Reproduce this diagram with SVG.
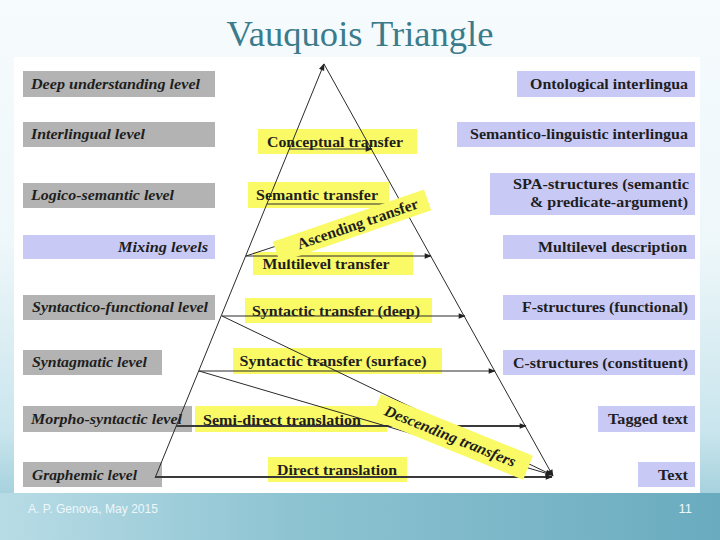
<svg xmlns="http://www.w3.org/2000/svg" width="720" height="540" viewBox="0 0 720 540">
<defs>
<linearGradient id="bg" x1="0" y1="0" x2="0" y2="1">
<stop offset="0" stop-color="#f6fbfd"/>
<stop offset="0.45" stop-color="#eef7fa"/>
<stop offset="0.8" stop-color="#c9e5ed"/>
<stop offset="1" stop-color="#8cc3d2"/>
</linearGradient>
<linearGradient id="band" x1="0" y1="0" x2="1" y2="0">
<stop offset="0" stop-color="#b8dce6"/>
<stop offset="0.4" stop-color="#8ec4d2"/>
<stop offset="1" stop-color="#6aabbf"/>
</linearGradient>
<marker id="ah" viewBox="0 0 10 10" refX="9" refY="5" markerWidth="8" markerHeight="7" markerUnits="userSpaceOnUse" orient="auto">
<path d="M0,1 L10,5 L0,9 z" fill="#222"/>
</marker>
<style>
.gray{fill:#b3b3b3}
.lav{fill:#c9c9f5}
.yel{fill:#fafa66}
.serif{font-family:'Liberation Serif','Times New Roman',Times,'DejaVu Serif',serif}
.lt{font-family:'Liberation Serif','Times New Roman',Times,'DejaVu Serif',serif;font-weight:bold;font-style:italic;font-size:15.5px;fill:#1e1e1e}
.rt{font-family:'Liberation Serif','Times New Roman',Times,'DejaVu Serif',serif;font-weight:bold;font-size:15.5px;fill:#1e1e1e;text-anchor:end}
.yt{font-family:'Liberation Serif','Times New Roman',Times,'DejaVu Serif',serif;font-weight:bold;font-size:15.5px;fill:#1e1e1e;text-anchor:middle}
.ft{font-family:'Liberation Sans',Arial,sans-serif;fill:#eef7fa}
.ln{stroke:#2a2a2a;stroke-width:1;fill:none}
.thk{stroke:#3a3a3a;stroke-width:2;fill:none}
</style>
</defs>
<rect x="0" y="0" width="720" height="540" fill="url(#bg)"/>
<rect x="0" y="493" width="720" height="47" fill="url(#band)"/>
<rect x="14" y="57" width="686" height="436" fill="#ffffff"/>
<text class="serif" x="360" y="46" font-size="36" fill="#3b7b8b" text-anchor="middle" textLength="267" lengthAdjust="spacingAndGlyphs">Vauquois Triangle</text>

<g id="deep-understanding"><rect class="gray" x="23" y="71" width="192" height="26"/><text class="lt" x="31" y="89" textLength="169" lengthAdjust="spacingAndGlyphs">Deep understanding level</text></g>
<g id="interlingual"><rect class="gray" x="23" y="122" width="192" height="25"/><text class="lt" x="31" y="139" textLength="114" lengthAdjust="spacingAndGlyphs">Interlingual level</text></g>
<g id="logico-semantic"><rect class="gray" x="23" y="183" width="192" height="25"/><text class="lt" x="31" y="200" textLength="143" lengthAdjust="spacingAndGlyphs">Logico-semantic level</text></g>
<g id="mixing"><rect class="lav" x="23" y="235" width="192" height="24"/><text class="lt" x="208" y="252" text-anchor="end" textLength="90" lengthAdjust="spacingAndGlyphs">Mixing levels</text></g>
<g id="syntactico-functional"><rect class="gray" x="23" y="295" width="192" height="25"/><text class="lt" x="32" y="312" textLength="176" lengthAdjust="spacingAndGlyphs">Syntactico-functional level</text></g>
<g id="syntagmatic"><rect class="gray" x="23" y="350" width="139" height="25"/><text class="lt" x="32" y="367" textLength="115" lengthAdjust="spacingAndGlyphs">Syntagmatic level</text></g>
<g id="morpho-syntactic"><rect class="gray" x="23" y="406" width="169" height="26"/><text class="lt" x="31" y="424" textLength="151" lengthAdjust="spacingAndGlyphs">Morpho-syntactic level</text></g>
<g id="graphemic"><rect class="gray" x="23" y="462" width="139" height="25"/><text class="lt" x="32" y="480" textLength="105" lengthAdjust="spacingAndGlyphs">Graphemic level</text></g>

<g id="ontological"><rect class="lav" x="517" y="71" width="178" height="26"/><text class="rt" x="688" y="89" textLength="158" lengthAdjust="spacingAndGlyphs">Ontological interlingua</text></g>
<g id="semantico-linguistic"><rect class="lav" x="457" y="122" width="238" height="25"/><text class="rt" x="688" y="139" textLength="218" lengthAdjust="spacingAndGlyphs">Semantico-linguistic interlingua</text></g>
<g id="spa"><rect class="lav" x="490" y="173" width="205" height="42"/><text class="rt" x="689" y="189" textLength="176" lengthAdjust="spacingAndGlyphs">SPA-structures (semantic</text><text class="rt" x="688" y="207" textLength="158" lengthAdjust="spacingAndGlyphs">&amp; predicate-argument)</text></g>
<g id="multilevel-description"><rect class="lav" x="503" y="235" width="192" height="24"/><text class="rt" x="687" y="252" textLength="149" lengthAdjust="spacingAndGlyphs">Multilevel description</text></g>
<g id="f-structures"><rect class="lav" x="503" y="295" width="192" height="25"/><text class="rt" x="688" y="312" textLength="166" lengthAdjust="spacingAndGlyphs">F-structures (functional)</text></g>
<g id="c-structures"><rect class="lav" x="503" y="350" width="192" height="25"/><text class="rt" x="688" y="368" textLength="175" lengthAdjust="spacingAndGlyphs">C-structures (constituent)</text></g>
<g id="tagged-text"><rect class="lav" x="598" y="406" width="97" height="26"/><text class="rt" x="688" y="424" textLength="80" lengthAdjust="spacingAndGlyphs">Tagged text</text></g>
<g id="text"><rect class="lav" x="638" y="462" width="57" height="25"/><text class="rt" x="688" y="480" textLength="30" lengthAdjust="spacingAndGlyphs">Text</text></g>

<g id="conceptual-transfer"><rect class="yel" x="258" y="129" width="159" height="25"/><text class="yt" x="335" y="147" textLength="136" lengthAdjust="spacingAndGlyphs">Conceptual transfer</text></g>
<g id="semantic-transfer"><rect class="yel" x="248" y="182" width="141" height="26"/><text class="yt" x="317" y="200" textLength="122" lengthAdjust="spacingAndGlyphs">Semantic transfer</text></g>
<g id="multilevel-transfer"><rect class="yel" x="253" y="252" width="160" height="23"/><text class="yt" x="326" y="269" textLength="127" lengthAdjust="spacingAndGlyphs">Multilevel transfer</text></g>
<g id="syntactic-deep"><rect class="yel" x="245" y="298" width="187" height="25"/><text class="yt" x="336" y="316" textLength="168" lengthAdjust="spacingAndGlyphs">Syntactic transfer (deep)</text></g>
<g id="syntactic-surface"><rect class="yel" x="233" y="348" width="209" height="26"/><text class="yt" x="333" y="366" textLength="187" lengthAdjust="spacingAndGlyphs">Syntactic transfer (surface)</text></g>
<g id="semi-direct"><rect class="yel" x="195" y="406" width="192" height="26"/><text class="yt" x="282" y="425" textLength="158" lengthAdjust="spacingAndGlyphs">Semi-direct translation</text></g>
<g id="direct"><rect class="yel" x="268" y="457" width="139" height="25"/><text class="yt" x="337" y="475" textLength="120" lengthAdjust="spacingAndGlyphs">Direct translation</text></g>

<g id="connectors">
<path class="ln" d="M155,478 L324,64" marker-end="url(#ah)"/>
<path class="ln" d="M324,64 L553,476" marker-end="url(#ah)"/>
<path class="ln" d="M289,149 L372,149" marker-end="url(#ah)"/>
<path class="ln" d="M267,204 L401,204" marker-end="url(#ah)"/>
<path class="ln" d="M246,256 L431,256" marker-end="url(#ah)"/>
<path class="ln" d="M246,256 L401,205" marker-end="url(#ah)"/>
<path class="ln" d="M222,316 L465,316" marker-end="url(#ah)"/>
<path class="ln" d="M199,371 L495,371" marker-end="url(#ah)"/>
<path class="thk" d="M176,426 L526,426" marker-end="url(#ah)"/>
<path class="thk" d="M155,477 L552,477" marker-end="url(#ah)"/>
<path class="ln" d="M222,316 L552,475" marker-end="url(#ah)"/>
<path class="ln" d="M199,371 L552,475" marker-end="url(#ah)"/>
</g>

<g id="ascending-transfer" transform="translate(352,226) rotate(-19)"><rect class="yel" x="-80" y="-11" width="160" height="22"/><text class="yt" x="6" y="5" font-size="14.5" textLength="127" lengthAdjust="spacingAndGlyphs">Ascending transfer</text></g>
<g id="descending-transfers" transform="translate(452,437) rotate(22)"><rect class="yel" x="-82" y="-13" width="164" height="26"/><text class="yt" x="-2" y="5" font-size="14.5" font-style="italic" textLength="140" lengthAdjust="spacingAndGlyphs">Descending transfers</text></g>

<text class="ft" x="28" y="513" font-size="12" textLength="130" lengthAdjust="spacingAndGlyphs">A. P. Genova, May 2015</text>
<text class="ft" x="692" y="513" font-size="13" text-anchor="end">11</text>
</svg>
